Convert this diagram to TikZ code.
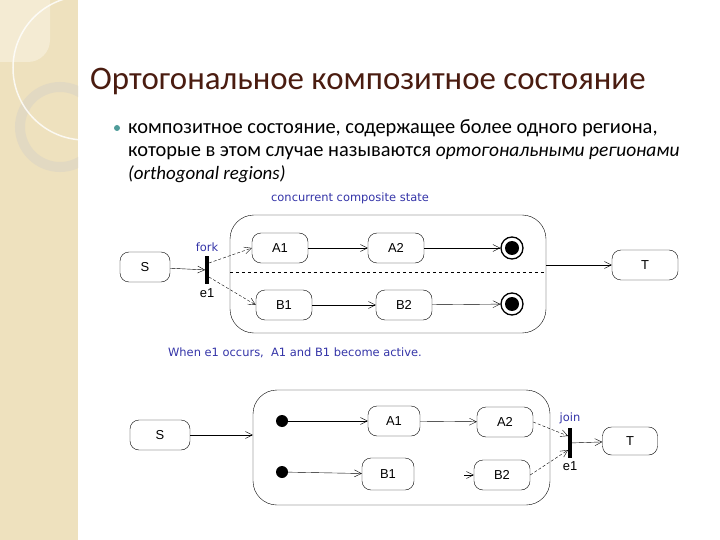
\documentclass[tikz,border=0pt]{standalone}
\usepackage{fontspec}
\setmainfont{Carlito}
\newfontfamily\diagfont{Liberation Sans}
\newfontfamily\notefont{DejaVu Sans}
\usetikzlibrary{arrows.meta}
\definecolor{strip}{HTML}{EEE1BE}
\definecolor{stripl}{HTML}{F4EBD3}
\definecolor{ring}{HTML}{E2D9C2}
\definecolor{titlec}{HTML}{4A1C10}
\definecolor{bulletc}{HTML}{4F9C9A}
\definecolor{labelblue}{HTML}{3434A8}

\begin{document}
\begin{tikzpicture}[x=1bp, y=-1bp,
    st/.style={draw, rounded corners=9bp, font=\diagfont\fontsize{13}{15}\selectfont,
               inner sep=0pt, minimum width=56bp, minimum height=30bp},
    comp/.style={draw, rounded corners=24bp, inner sep=0pt},
    lbl/.style={font=\notefont\fontsize{11.5}{13}\selectfont, text=labelblue, inner sep=0pt},
    sub/.style={font=\diagfont\fontsize{13}{15}\selectfont, inner sep=0pt},
    bar/.style={fill=black, inner sep=0pt, minimum width=3.5bp, minimum height=28bp},
    fin/.style={circle, draw, line width=1.3bp, minimum size=22bp, inner sep=0pt,
                path picture={\fill (path picture bounding box.center) circle (7bp);}},
    init/.style={circle, fill=black, minimum size=12bp, inner sep=0pt},
    tr/.style={-{Straight Barb[length=7bp,width=7bp]}},
    dtr/.style={tr, densely dashed}]
  % page and left strip
  \useasboundingbox[fill=white] (0,0) rectangle (720,540);
  \fill[strip] (0,0) rectangle (78,540);
  \begin{scope}
    \clip (0,0) rectangle (78,540);
    \fill[stripl, rounded corners=22bp] (-30,-30) rectangle (50,62);
    \draw[ring, line width=10bp] (60,127) circle (40);
    \draw[white, opacity=0.8, line width=1.5bp] (85,68) circle (72);
  \end{scope}
  % title and text
  \node[anchor=base west, text=titlec, font=\fontsize{33}{38}\selectfont, inner sep=0pt]
    (title) at (90,90) {Ортогональное композитное состояние};
  \fill[bulletc] (117,128) circle (3);
  \node[anchor=base west, font=\fontsize{20.5}{24}\selectfont, inner sep=0pt] (l1) at (128,134)
    {композитное состояние, содержащее более одного региона,};
  \node[anchor=base west, font=\fontsize{20.5}{24}\selectfont, inner sep=0pt] (l2) at (128,157)
    {которые в этом случае называются {\fontsize{19.5}{24}\selectfont\itshape ортогональными регионами}};
  \node[anchor=base west, font=\fontsize{19}{24}\selectfont, inner sep=0pt] (l3) at (128,180)
    {\textit{(orthogonal regions)}};

  % concurrent composite state
  \node[lbl] (cap1) at (350,198) {concurrent composite state};
  \node[comp, minimum width=316bp, minimum height=118bp] (comp1) at (388,274) {};
  \draw[dashed] (230,272) -- (546,272);
  \node[st, minimum width=50bp] (s1) at (145,267) {S};
  \node[bar] (fork) at (207,270) {};
  \node[lbl, above=4bp] (forkl) at (fork.north) {fork};
  \node[sub, below=4bp] (e1a) at (fork.south) {e1};
  \node[st] (a1) at (280,248) {A1};
  \node[st] (a2) at (396,248) {A2};
  \node[fin] (f1) at (512,248) {};
  \node[st] (b1) at (284,305) {B1};
  \node[st] (b2) at (404,305) {B2};
  \node[fin] (f2) at (512,304) {};
  \node[st, minimum width=66bp] (t1) at (645,265) {T};
  \draw[tr] (s1) -- (fork);
  \draw[dtr] ([yshift=7bp]fork.east) -- (a1.west);
  \draw[dtr] ([yshift=-7bp]fork.east) -- (b1.west);
  \draw[tr] (a1) -- (a2);
  \draw[tr] (a2) -- (f1);
  \draw[tr] (b1) -- (b2);
  \draw[tr] (b2) -- (f2);
  \draw[tr] (comp1.east |- t1) -- (t1);
  \node[lbl] (note) at (295,353) {When e1 occurs,\ \ A1 and B1 become active.};

  % join
  \node[st, minimum width=60bp] (s2) at (160,435) {S};
  \node[comp, minimum width=297bp, minimum height=115bp] (comp2) at (401.5,447.5) {};
  \node[init] (i1) at (282,421) {};
  \node[init] (i2) at (282,472) {};
  \node[st, minimum width=52bp] (a21) at (394,421) {A1};
  \node[st] (a22) at (505,422) {A2};
  \node[st, minimum width=52bp, minimum height=32bp] (b21) at (388,474) {B1};
  \node[st] (b22) at (502,475) {B2};
  \node[bar, minimum height=30bp] (join) at (570,443) {};
  \node[lbl, above=4bp] (joinl) at (join.north) {join};
  \node[sub, below=3bp] (e1b) at (join.south) {e1};
  \node[st, minimum width=55bp, minimum height=28bp] (t2) at (630,441) {T};
  \coordinate (b2in) at (464,475);
  \draw[tr] (s2) -- (s2 -| comp2.west);
  \draw[tr] (i1) -- (a21);
  \draw[tr] (a21) -- (a22);
  \draw[tr] (i2) -- (b21);
  \draw[tr] (b2in) -- (b22);
  \draw[dtr] (a22.east) -- ([yshift=7bp]join.west);
  \draw[dtr] (b22.east) -- ([yshift=-7bp]join.west);
  \draw[tr] (join) -- (t2);
\end{tikzpicture}
\end{document}
